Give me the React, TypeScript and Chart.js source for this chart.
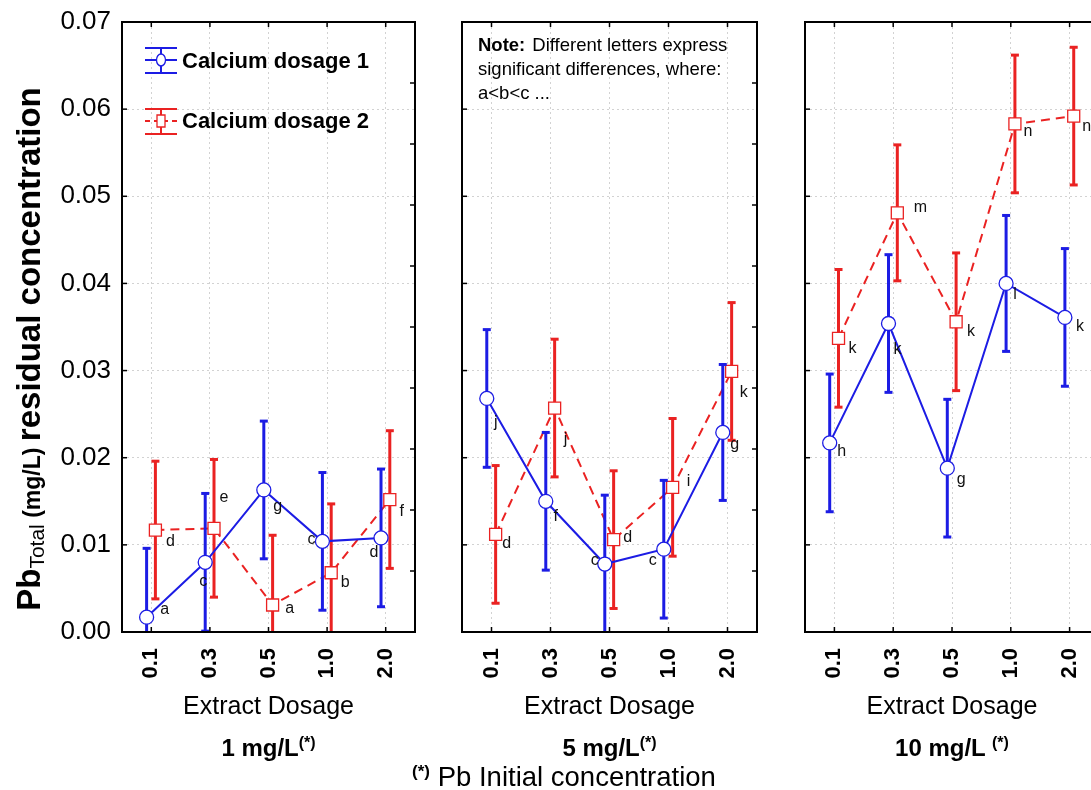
import React, { useEffect, useRef } from 'react';
import { Chart, registerables } from 'chart.js';

Chart.register(...registerables);

// ---------------- data ----------------
const extractDosages = ['0.1', '0.3', '0.5', '1.0', '2.0'];
const yTickStep = 0.01;
const yMin = 0;
const yMax = 0.07;
const seriesNames = ['Calcium dosage 1', 'Calcium dosage 2'];
const initialConcentrations = ['1 mg/L', '5 mg/L', '10 mg/L'];

// 1 mg/L initial Pb
const ca1_pb1 = [0.0017, 0.0080, 0.0163, 0.0104, 0.0108];
const ca1_pb1_err = [0.0079, 0.0079, 0.0079, 0.0079, 0.0079];
const ca1_pb1_letters = ['a', 'c', 'g', 'c', 'd'];
const ca2_pb1 = [0.0117, 0.0119, 0.0031, 0.0068, 0.0152];
const ca2_pb1_err = [0.0079, 0.0079, 0.0080, 0.0079, 0.0079];
const ca2_pb1_letters = ['d', 'e', 'a', 'b', 'f'];

// 5 mg/L initial Pb
const ca1_pb5 = [0.0268, 0.0150, 0.0078, 0.0095, 0.0229];
const ca1_pb5_err = [0.0079, 0.0079, 0.0079, 0.0079, 0.0078];
const ca1_pb5_letters = ['j', 'f', 'c', 'c', 'g'];
const ca2_pb5 = [0.0112, 0.0257, 0.0106, 0.0166, 0.0299];
const ca2_pb5_err = [0.0079, 0.0079, 0.0079, 0.0079, 0.0079];
const ca2_pb5_letters = ['d', 'j', 'd', 'i', 'k'];

// 10 mg/L initial Pb
const ca1_pb10 = [0.0217, 0.0354, 0.0188, 0.0400, 0.0361];
const ca1_pb10_err = [0.0079, 0.0079, 0.0079, 0.0078, 0.0079];
const ca1_pb10_letters = ['h', 'k', 'g', 'l', 'k'];
const ca2_pb10 = [0.0337, 0.0481, 0.0356, 0.0583, 0.0592];
const ca2_pb10_err = [0.0079, 0.0078, 0.0079, 0.0079, 0.0079];
const ca2_pb10_letters = ['k', 'm', 'k', 'n', 'n'];

const panelData = [
  { ca1: ca1_pb1, ca1Err: ca1_pb1_err, ca1Letters: ca1_pb1_letters, ca2: ca2_pb1, ca2Err: ca2_pb1_err, ca2Letters: ca2_pb1_letters },
  { ca1: ca1_pb5, ca1Err: ca1_pb5_err, ca1Letters: ca1_pb5_letters, ca2: ca2_pb5, ca2Err: ca2_pb5_err, ca2Letters: ca2_pb5_letters },
  { ca1: ca1_pb10, ca1Err: ca1_pb10_err, ca1Letters: ca1_pb10_letters, ca2: ca2_pb10, ca2Err: ca2_pb10_err, ca2Letters: ca2_pb10_letters },
];

// ---------------- layout / style ----------------
const FONT = "'Liberation Sans', Arial, Helvetica, sans-serif";
const BLUE = '#1c1ce4';
const RED = '#ea2222';
const GRID = '#d2d2d2';
const W = 1091;
const H = 790;
const PLOT_TOP = 22;
const PLOT_BOTTOM = 632;
const BLUE_SHIFT = -0.08;
const RED_SHIFT = 0.07;

const PANEL_LAYOUT = [
  { canvasLeft: 0, canvasWidth: 440, plotLeft: 122, plotRight: 415 },
  { canvasLeft: 430, canvasWidth: 350, plotLeft: 462, plotRight: 757 },
  { canvasLeft: 775, canvasWidth: 350, plotLeft: 805, plotRight: 1099 },
];

// letter label offsets (px) from each marker centre
const LETTER_OFFSETS = [
  {
    ca1: [[18, -8], [-2, 19], [14, 17], [-11, -2], [-7, 15]],
    ca2: [[15, 12], [10, -31], [17, 4], [14, 10], [12, 12]],
  },
  {
    ca1: [[9, 24], [10, 15], [-10, -3], [-11, 11], [12, 12]],
    ca2: [[11, 9], [11, 32], [14, -2], [16, -6], [12, 21]],
  },
  {
    ca1: [[12, 9], [9, 26], [14, 11], [9, 11], [15, 9]],
    ca2: [[14, 10], [23, -5], [15, 10], [13, 8], [13, 10]],
  },
];

function line(ctx: any, x1: number, y1: number, x2: number, y2: number) {
  ctx.beginPath();
  ctx.moveTo(x1, y1);
  ctx.lineTo(x2, y2);
  ctx.stroke();
}

function makePlugin(idx: number) {
  return {
    id: 'decor' + idx,
    beforeDatasetDraw(chart: any, args: any) {
      const ds = chart.data.datasets[args.index];
      const meta = chart.getDatasetMeta(args.index);
      const { ctx, chartArea: a } = chart;
      const y = chart.scales.y;
      ctx.save();
      ctx.beginPath();
      ctx.rect(a.left, a.top, a.right - a.left, a.bottom - a.top);
      ctx.clip();
      ctx.strokeStyle = ds.borderColor;
      ctx.lineWidth = 3;
      ctx.setLineDash([]);
      meta.data.forEach((pt: any, i: number) => {
        const v = ds.data[i].y;
        const e = ds.errors[i];
        const y1 = y.getPixelForValue(v + e);
        const y2 = y.getPixelForValue(v - e);
        line(ctx, pt.x, y1, pt.x, y2);
        line(ctx, pt.x - 4, y1, pt.x + 4, y1);
        line(ctx, pt.x - 4, y2, pt.x + 4, y2);
      });
      ctx.restore();
    },
    afterDatasetsDraw(chart: any) {
      const { ctx, chartArea: a } = chart;
      const x = chart.scales.x;
      const y = chart.scales.y;
      ctx.save();
      // letters
      ctx.fillStyle = '#111';
      ctx.font = `16px ${FONT}`;
      ctx.textAlign = 'center';
      ctx.textBaseline = 'middle';
      chart.data.datasets.forEach((ds: any, di: number) => {
        const meta = chart.getDatasetMeta(di);
        const offs = LETTER_OFFSETS[idx][di === 0 ? 'ca1' : 'ca2'];
        meta.data.forEach((pt: any, i: number) => {
          ctx.fillText(ds.letters[i], pt.x + offs[i][0], pt.y + offs[i][1]);
        });
      });
      // frame
      ctx.strokeStyle = '#000';
      ctx.lineWidth = 2;
      ctx.setLineDash([]);
      ctx.strokeRect(a.left, a.top, a.right - a.left, a.bottom - a.top);
      // inward ticks
      ctx.lineWidth = 1.5;
      for (let v = yMin + yTickStep; v < yMax - 1e-9; v += yTickStep) {
        const py = y.getPixelForValue(v);
        line(ctx, a.left, py, a.left + 5, py);
      }
      for (let k = 1; k < 10; k++) {
        const py = a.bottom - ((a.bottom - a.top) * k) / 10;
        line(ctx, a.right - 5, py, a.right, py);
      }
      extractDosages.forEach((_, i) => {
        const px = x.getPixelForValue(i);
        line(ctx, px, a.top, px, a.top + 5);
        line(ctx, px, a.bottom - 5, px, a.bottom);
      });

      if (idx === 0) {
        // y tick labels (left panel only)
        ctx.fillStyle = '#000';
        ctx.font = `26px ${FONT}`;
        ctx.textAlign = 'right';
        ctx.textBaseline = 'middle';
        y.ticks.forEach((t: any) => {
          ctx.fillText(Number(t.value).toFixed(2), a.left - 11, y.getPixelForValue(t.value));
        });

        const items = [
          { cy: a.top + 38, ty: a.top + 40, color: BLUE, dashed: false, square: false },
          { cy: a.top + 99, ty: a.top + 100, color: RED, dashed: true, square: true },
        ];
        items.forEach((it, n) => {
          const cx = a.left + 39;
          ctx.strokeStyle = it.color;
          ctx.lineWidth = 2;
          ctx.setLineDash([]);
          line(ctx, cx - 16, it.cy - 12, cx + 16, it.cy - 12);
          line(ctx, cx - 16, it.cy + 13, cx + 16, it.cy + 13);
          line(ctx, cx, it.cy - 12, cx, it.cy + 13);
          if (it.dashed) ctx.setLineDash([5, 4]);
          line(ctx, cx - 16, it.cy, cx + 16, it.cy);
          ctx.setLineDash([]);
          ctx.fillStyle = '#fff';
          ctx.lineWidth = 1.3;
          ctx.beginPath();
          if (it.square) ctx.rect(cx - 4, it.cy - 6, 8, 12);
          else ctx.ellipse(cx, it.cy, 4.5, 6, 0, 0, Math.PI * 2);
          ctx.fill();
          ctx.stroke();
          ctx.fillStyle = '#000';
          ctx.font = `bold 22px ${FONT}`;
          ctx.textAlign = 'left';
          ctx.textBaseline = 'middle';
          ctx.fillText(seriesNames[n], a.left + 60, it.ty);
        });
      }
      if (idx === 1) {
        const lx = a.left + 16;
        ctx.fillStyle = '#000';
        ctx.textAlign = 'left';
        ctx.textBaseline = 'middle';
        ctx.font = `bold 18.5px ${FONT}`;
        ctx.fillText('Note:', lx, a.top + 24);
        const nw = ctx.measureText('Note:').width;
        ctx.font = `18.5px ${FONT}`;
        ctx.fillText('Different letters express', lx + nw + 7, a.top + 24);
        ctx.fillText('significant differences, where:', lx, a.top + 48);
        ctx.fillText('a<b<c ...', lx, a.top + 72);
      }
      ctx.restore();
    },
  };
}

function buildConfig(idx: number): any {
  const g = PANEL_LAYOUT[idx];
  const d = panelData[idx];
  const yAxisWidth = g.plotLeft - g.canvasLeft;
  const rightPad = g.canvasLeft + g.canvasWidth - g.plotRight;
  return {
    type: 'line',
    data: {
      datasets: [
        {
          label: seriesNames[0],
          data: d.ca1.map((v, i) => ({ x: i + BLUE_SHIFT, y: v })),
          errors: d.ca1Err,
          letters: d.ca1Letters,
          borderColor: BLUE,
          borderWidth: 2,
          tension: 0,
          pointStyle: 'circle',
          pointRadius: 7,
          pointBorderWidth: 1.3,
          pointBackgroundColor: '#fff',
          pointBorderColor: BLUE,
        },
        {
          label: seriesNames[1],
          data: d.ca2.map((v, i) => ({ x: i + RED_SHIFT, y: v })),
          errors: d.ca2Err,
          letters: d.ca2Letters,
          borderColor: RED,
          borderWidth: 2,
          borderDash: [9, 6],
          tension: 0,
          pointStyle: 'rect',
          pointRadius: 8.5,
          pointBorderWidth: 1.3,
          pointBackgroundColor: '#fff',
          pointBorderColor: RED,
        },
      ],
    },
    options: {
      animation: false,
      responsive: false,
      maintainAspectRatio: false,
      devicePixelRatio: 1,
      layout: { autoPadding: false, padding: { left: 0, right: rightPad, top: PLOT_TOP, bottom: 0 } },
      plugins: { legend: { display: false }, tooltip: { enabled: false }, title: { display: false } },
      scales: {
        x: {
          type: 'linear',
          min: -0.5,
          max: 4.5,
          afterBuildTicks: (s: any) => {
            s.ticks = extractDosages.map((_, i) => ({ value: i }));
          },
          afterFit: (s: any) => {
            s.height = H - PLOT_BOTTOM;
          },
          ticks: {
            autoSkip: false,
            minRotation: 90,
            maxRotation: 90,
            padding: 16,
            color: '#000',
            font: { family: FONT, size: 22, weight: 'bold' },
            callback: (v: any) => extractDosages[Math.round(v)],
          },
          grid: { color: GRID, lineWidth: 1, drawTicks: false },
          border: { display: false, dash: [2, 3] },
          title: {
            display: true,
            text: 'Extract Dosage',
            color: '#000',
            font: { family: FONT, size: 25 },
            padding: { top: 0, bottom: 68 },
          },
        },
        y: {
          type: 'linear',
          min: yMin,
          max: yMax,
          afterFit: (s: any) => {
            s.width = yAxisWidth;
          },
          ticks: {
            display: false,
            stepSize: yTickStep,
            callback: (v: any) => Number(v).toFixed(2),
          },
          grid: { color: GRID, lineWidth: 1, drawTicks: false },
          border: { display: false, dash: [2, 3] },
        },
      },
    },
    plugins: [makePlugin(idx)],
  };
}

function Panel({ idx }: { idx: number }) {
  const ref = useRef<HTMLCanvasElement | null>(null);
  useEffect(() => {
    if (!ref.current) return;
    const chart = new Chart(ref.current, buildConfig(idx));
    return () => chart.destroy();
  }, [idx]);
  const g = PANEL_LAYOUT[idx];
  return (
    <canvas
      ref={ref}
      width={g.canvasWidth}
      height={H}
      style={{ position: 'absolute', left: g.canvasLeft, top: 0, width: g.canvasWidth, height: H }}
    />
  );
}

export default function App() {
  const centers = PANEL_LAYOUT.map((g) => (g.plotLeft + g.plotRight) / 2);
  return (
    <div
      style={{
        position: 'fixed',
        left: 0,
        top: 0,
        width: W,
        height: H,
        overflow: 'hidden',
        background: '#fff',
        fontFamily: FONT,
        color: '#000',
      }}
    >
      {PANEL_LAYOUT.map((_, i) => (
        <Panel key={i} idx={i} />
      ))}
      {/* y axis title */}
      <div
        style={{
          position: 'absolute',
          left: 29 - 320,
          top: 349 - 20,
          width: 640,
          height: 40,
          lineHeight: '40px',
          textAlign: 'center',
          whiteSpace: 'nowrap',
          transform: 'rotate(-90deg)',
          fontWeight: 'bold',
          fontSize: 33,
        }}
      >
        Pb<sub style={{ fontSize: 21, fontWeight: 'normal', verticalAlign: '-4px' }}>Total</sub>
        <span style={{ fontSize: 23 }}> (mg/L) </span>residual concentration
      </div>
      {/* panel captions */}
      {initialConcentrations.map((t, i) => (
        <div
          key={t}
          style={{
            position: 'absolute',
            left: centers[i] - 150,
            top: 734,
            width: 300,
            lineHeight: '28px',
            textAlign: 'center',
            whiteSpace: 'nowrap',
            fontWeight: 'bold',
            fontSize: 24,
          }}
        >
          {t}
          {i === 2 ? ' ' : ''}
          <span style={{ fontSize: 16, position: 'relative', top: -8 }}>(*)</span>
        </div>
      ))}
      {/* footnote */}
      <div
        style={{
          position: 'absolute',
          left: 564 - 300,
          top: 762,
          width: 600,
          lineHeight: '30px',
          textAlign: 'center',
          whiteSpace: 'nowrap',
          fontSize: 27.5,
        }}
      >
        <span style={{ fontSize: 17, fontWeight: 'bold', position: 'relative', top: -9 }}>(*)</span> Pb Initial
        concentration
      </div>
    </div>
  );
}
